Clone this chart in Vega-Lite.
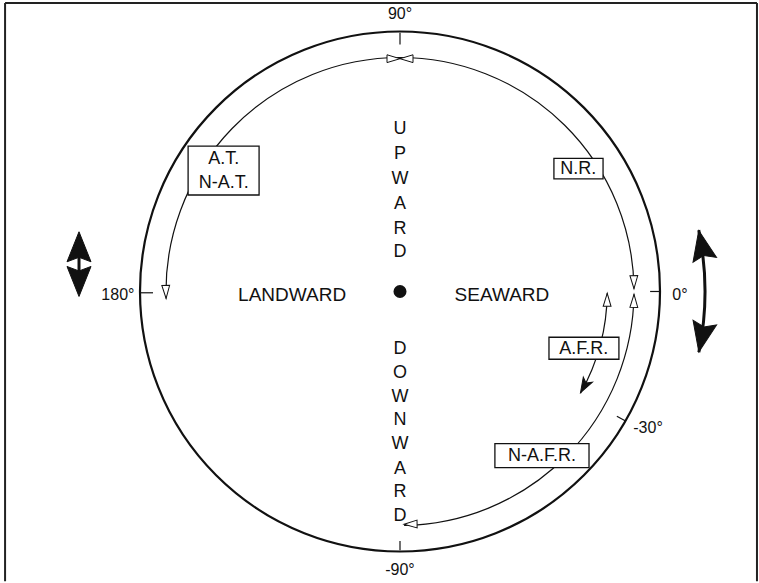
{
  "$schema": "https://vega.github.io/schema/vega-lite/v6.json",
  "autosize": {"type": "fit", "contains": "padding"},
  "width": 759,
  "height": 583,
  "padding": 0,
  "background": "white",
  "config": {"view": {"stroke": null}, "axis": {"disable": true}, "text": {"font": "Liberation Sans"}},
  "datasets": {
    "frame": [
      {"x": -1.519, "y": 1.115, "x2": 1.373, "y2": 1.115},
      {"x": -1.519, "y": 1.115, "x2": -1.519, "y2": -1.12},
      {"x": 1.373, "y": 1.115, "x2": 1.373, "y2": -1.12}
    ],
    "circle": [{"cx": 0, "cy": 0, "a1": 90, "a2": -270, "r": 1}],
    "inner": [
      {"name": "A.T.", "cx": 0, "cy": 0, "a1": 90, "a2": 181.7, "r": 0.9},
      {"name": "N.R.", "cx": 0, "cy": 0, "a1": 90, "a2": 0.7, "r": 0.9},
      {"name": "N-A.F.R.", "cx": 0, "cy": 0, "a1": -0.7, "a2": -89, "r": 0.9},
      {"name": "A.F.R.", "cx": 0, "cy": 0, "a1": -0.5, "a2": -29.4, "r": 0.797}
    ],
    "bigarc": [{"cx": 0, "cy": 0, "a1": 11.6, "a2": -11.5, "r": 1.173}],
    "shaft": [{"x": -1.2346, "y": 0.2, "y2": 0.0}],
    "ticks": [
      {"x": 0, "y": 1, "x2": 0, "y2": 0.955},
      {"x": -1, "y": -0.005, "x2": -0.95, "y2": -0.005},
      {"x": 0.962, "y": 0, "x2": 1, "y2": 0},
      {"x": 0.866, "y": -0.5, "x2": 0.834, "y2": -0.482},
      {"x": 0, "y": -1, "x2": 0, "y2": -0.965}
    ],
    "openheads": [
      {"x": -0.8996, "y": -0.0267, "rot": 178.3},
      {"x": 0.9, "y": 0.011, "rot": 179.3},
      {"x": 0.9, "y": -0.011, "rot": 0.7},
      {"x": 0.0157, "y": -0.8999, "rot": 269},
      {"x": 0.797, "y": -0.007, "rot": 0.5},
      {"x": 0, "y": 0.9, "rot": 90},
      {"x": 0, "y": 0.9, "rot": 270}
    ],
    "smallfilled": [{"x": 0.6943, "y": -0.3913, "rot": 209.4}],
    "bigheads": [
      {"x": -1.2346, "y": 0.2308, "rot": 0},
      {"x": -1.2346, "y": -0.0192, "rot": 180},
      {"x": 1.149, "y": 0.2359, "rot": -11.6},
      {"x": 1.1494, "y": -0.2339, "rot": 191.5}
    ],
    "boxes": [
      {"x": -0.815, "x2": -0.542, "y": 0.562, "y2": 0.373},
      {"x": 0.592, "x2": 0.781, "y": 0.515, "y2": 0.435},
      {"x": 0.573, "x2": 0.842, "y": -0.177, "y2": -0.262},
      {"x": 0.365, "x2": 0.727, "y": -0.588, "y2": -0.681}
    ],
    "boxtext": [
      {"x": -0.678, "y": 0.512, "t": "A.T."},
      {"x": -0.678, "y": 0.42, "t": "N-A.T."},
      {"x": 0.686, "y": 0.473, "t": "N.R."},
      {"x": 0.707, "y": -0.221, "t": "A.F.R."},
      {"x": 0.546, "y": -0.636, "t": "N-A.F.R."}
    ],
    "deglabels": [
      {"x": 0, "y": 1.073, "t": "90°"},
      {"x": -1.085, "y": -0.015, "t": "180°"},
      {"x": 1.077, "y": -0.012, "t": "0°"},
      {"x": 0.954, "y": -0.527, "t": "-30°"},
      {"x": 0, "y": -1.077, "t": "-90°"}
    ],
    "words": [
      {"x": -0.415, "y": -0.015, "t": "LANDWARD"},
      {"x": 0.392, "y": -0.015, "t": "SEAWARD"}
    ],
    "letters": [
      {"x": 0, "y": 0.627, "t": "U"},
      {"x": 0, "y": 0.531, "t": "P"},
      {"x": 0, "y": 0.435, "t": "W"},
      {"x": 0, "y": 0.338, "t": "A"},
      {"x": 0, "y": 0.242, "t": "R"},
      {"x": 0, "y": 0.154, "t": "D"},
      {"x": 0, "y": -0.223, "t": "D"},
      {"x": 0, "y": -0.315, "t": "O"},
      {"x": 0, "y": -0.408, "t": "W"},
      {"x": 0, "y": -0.496, "t": "N"},
      {"x": 0, "y": -0.588, "t": "W"},
      {"x": 0, "y": -0.685, "t": "A"},
      {"x": 0, "y": -0.777, "t": "R"},
      {"x": 0, "y": -0.869, "t": "D"}
    ],
    "dot": [{"x": 0, "y": 0}]
  },
  "encoding": {
    "x": {"field": "x", "type": "quantitative", "scale": {"domain": [-1.5385, 1.3808], "nice": false, "zero": false}, "axis": null},
    "y": {"field": "y", "type": "quantitative", "scale": {"domain": [-1.1154, 1.1269], "nice": false, "zero": false}, "axis": null}
  },
  "layer": [
    {
      "data": {"name": "frame"},
      "mark": {"type": "rule", "color": "#222", "strokeWidth": 2},
      "encoding": {"x2": {"field": "x2"}, "y2": {"field": "y2"}}
    },
    {
      "data": {"name": "circle"},
      "mark": {"type": "arc", "filled": false, "stroke": "#111", "strokeWidth": 2.2},
      "encoding": {
        "x": {"field": "cx", "type": "quantitative"},
        "y": {"field": "cy", "type": "quantitative"},
        "theta": {"field": "a1", "type": "quantitative", "stack": null, "scale": {"domain": [90, -270], "range": [0, 6.283185307]}},
        "theta2": {"field": "a2"},
        "radius": {"field": "r", "type": "quantitative", "scale": {"type": "linear", "domain": [0, 1], "range": [0, 260], "zero": true}},
        "radius2": {"field": "r"}
      }
    },
    {
      "data": {"name": "ticks"},
      "mark": {"type": "rule", "color": "#111", "strokeWidth": 1.2},
      "encoding": {"x2": {"field": "x2"}, "y2": {"field": "y2"}}
    },
    {
      "data": {"name": "inner"},
      "mark": {"type": "arc", "filled": false, "stroke": "#111", "strokeWidth": 1.2},
      "encoding": {
        "x": {"field": "cx", "type": "quantitative"},
        "y": {"field": "cy", "type": "quantitative"},
        "theta": {"field": "a1", "type": "quantitative", "stack": null, "scale": {"domain": [90, -270], "range": [0, 6.283185307]}},
        "theta2": {"field": "a2"},
        "radius": {"field": "r", "type": "quantitative", "scale": {"type": "linear", "domain": [0, 1], "range": [0, 260], "zero": true}},
        "radius2": {"field": "r"}
      }
    },
    {
      "data": {"name": "bigarc"},
      "mark": {"type": "arc", "filled": false, "stroke": "#111", "strokeWidth": 3},
      "encoding": {
        "x": {"field": "cx", "type": "quantitative"},
        "y": {"field": "cy", "type": "quantitative"},
        "theta": {"field": "a1", "type": "quantitative", "stack": null, "scale": {"domain": [90, -270], "range": [0, 6.283185307]}},
        "theta2": {"field": "a2"},
        "radius": {"field": "r", "type": "quantitative", "scale": {"type": "linear", "domain": [0, 1], "range": [0, 260], "zero": true}},
        "radius2": {"field": "r"}
      }
    },
    {
      "data": {"name": "shaft"},
      "mark": {"type": "rule", "color": "#111", "strokeWidth": 3},
      "encoding": {"y2": {"field": "y2"}}
    },
    {
      "data": {"name": "openheads"},
      "mark": {"type": "point", "shape": "M0,0L-0.3,1L0.3,1Z", "filled": true, "fill": "white", "stroke": "#111", "strokeWidth": 1, "size": 676, "opacity": 1},
      "encoding": {"angle": {"field": "rot", "type": "quantitative", "scale": null}}
    },
    {
      "data": {"name": "smallfilled"},
      "mark": {"type": "point", "shape": "M0,0L-0.35,1L0,0.75L0.35,1Z", "filled": true, "fill": "#111", "stroke": "#111", "strokeWidth": 1, "size": 900, "opacity": 1},
      "encoding": {"angle": {"field": "rot", "type": "quantitative", "scale": null}}
    },
    {
      "data": {"name": "bigheads"},
      "mark": {"type": "point", "shape": "M0,0L-0.4,1L0,0.85L0.4,1Z", "filled": true, "fill": "#111", "stroke": "#111", "strokeWidth": 1, "size": 3600, "opacity": 1},
      "encoding": {"angle": {"field": "rot", "type": "quantitative", "scale": null}}
    },
    {
      "data": {"name": "boxes"},
      "mark": {"type": "rect", "fill": "white", "stroke": "#111", "strokeWidth": 1.3},
      "encoding": {"x2": {"field": "x2"}, "y2": {"field": "y2"}}
    },
    {
      "data": {"name": "boxtext"},
      "mark": {"type": "text", "fontSize": 18, "color": "#111", "align": "center", "baseline": "middle"},
      "encoding": {"text": {"field": "t"}}
    },
    {
      "data": {"name": "deglabels"},
      "mark": {"type": "text", "fontSize": 16, "color": "#111", "align": "center", "baseline": "middle"},
      "encoding": {"text": {"field": "t"}}
    },
    {
      "data": {"name": "words"},
      "mark": {"type": "text", "fontSize": 19, "color": "#111", "align": "center", "baseline": "middle"},
      "encoding": {"text": {"field": "t"}}
    },
    {
      "data": {"name": "letters"},
      "mark": {"type": "text", "fontSize": 18, "color": "#111", "align": "center", "baseline": "middle"},
      "encoding": {"text": {"field": "t"}}
    },
    {
      "data": {"name": "dot"},
      "mark": {"type": "point", "shape": "circle", "filled": true, "color": "#111", "size": 170, "opacity": 1}
    }
  ]
}
